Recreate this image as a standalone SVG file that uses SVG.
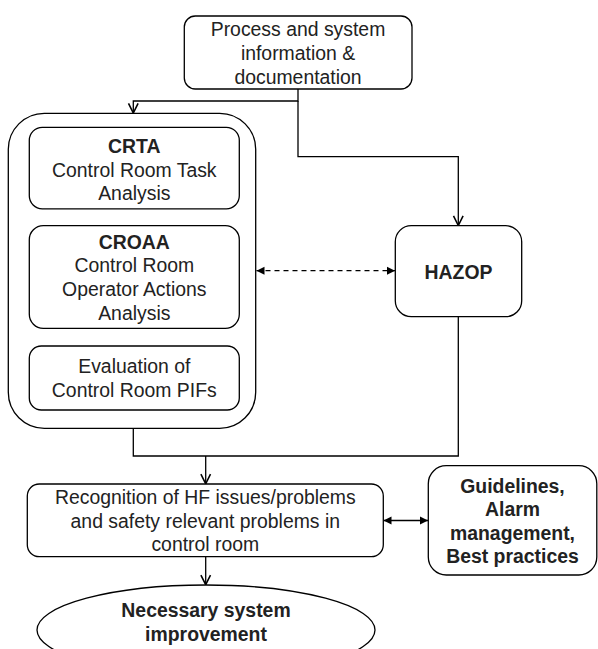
<svg xmlns="http://www.w3.org/2000/svg" width="598" height="649" viewBox="0 0 598 649">
<style>
.box{fill:#fff;stroke:#000;stroke-width:1.3}
.t{font-family:"Liberation Sans",Arial,sans-serif;font-size:19.4px;fill:#222;text-anchor:middle}
.b{font-weight:bold}
.c{fill:none;stroke:#000;stroke-width:1.3}
</style>
<defs>
<marker id="v" markerUnits="userSpaceOnUse" markerWidth="12" markerHeight="12" viewBox="0 0 10 10" refX="9" refY="5" orient="auto">
<path d="M1,1 L9,5 L1,9" fill="none" stroke="#000" stroke-width="1.3"/>
</marker>
<marker id="f" markerUnits="userSpaceOnUse" markerWidth="9" markerHeight="9" viewBox="0 0 9 9" refX="8" refY="4.5" orient="auto-start-reverse">
<path d="M0,0.5 L8,4.5 L0,8.5 z" fill="#000"/>
</marker>
</defs>
<rect width="598" height="649" fill="#fff"/>
<g id="connectors">
<path class="c" d="M298,89 V101 H133.3 V113" marker-end="url(#v)"/>
<path class="c" d="M298,101 V156.7 H458.3 V225.5" marker-end="url(#v)"/>
<path class="c" d="M133.3,428.3 V456 H458.3 V316.7"/>
<path class="c" d="M205.7,456 V483.8" marker-end="url(#v)"/>
<path class="c" d="M205.7,556.7 V584.7" marker-end="url(#v)"/>
<path class="c" d="M256.5,270.7 H395" stroke-dasharray="5,4" marker-start="url(#f)" marker-end="url(#f)"/>
<path class="c" d="M383.5,520.5 H428" marker-start="url(#f)" marker-end="url(#f)"/>
</g>
<g id="process">
<rect class="box" x="184.3" y="16" width="227.7" height="73" rx="11"/>
<text class="t" x="298" y="36">Process and system</text>
<text class="t" x="298" y="60">information &amp;</text>
<text class="t" x="298" y="83.5">documentation</text>
</g>
<g id="container">
<rect class="box" x="8.3" y="113.3" width="247.4" height="315" rx="36"/>
</g>
<g id="crta">
<rect class="box" x="29.3" y="127.3" width="210" height="81.5" rx="13"/>
<text class="t b" x="134.3" y="153">CRTA</text>
<text class="t" x="134.3" y="176.5">Control Room Task</text>
<text class="t" x="134.3" y="200">Analysis</text>
</g>
<g id="croaa">
<rect class="box" x="29.3" y="225.7" width="210" height="102.6" rx="14"/>
<text class="t b" x="134.3" y="249">CROAA</text>
<text class="t" x="134.3" y="272">Control Room</text>
<text class="t" x="134.3" y="296">Operator Actions</text>
<text class="t" x="134.3" y="320">Analysis</text>
</g>
<g id="pifs">
<rect class="box" x="29.3" y="346" width="210" height="64" rx="12"/>
<text class="t" x="134.3" y="373">Evaluation of</text>
<text class="t" x="134.3" y="397">Control Room PIFs</text>
</g>
<g id="hazop">
<rect class="box" x="395.3" y="225.7" width="126.4" height="91" rx="16"/>
<text class="t b" x="458.5" y="279">HAZOP</text>
</g>
<g id="recognition">
<rect class="box" x="27.3" y="484" width="356" height="72.7" rx="12"/>
<text class="t" x="205.3" y="504">Recognition of HF issues/problems</text>
<text class="t" x="205.3" y="527.5">and safety relevant problems in</text>
<text class="t" x="205.3" y="551">control room</text>
</g>
<g id="guidelines">
<rect class="box" x="428.3" y="465.7" width="168.5" height="109.3" rx="18"/>
<text class="t b" x="512.5" y="493">Guidelines,</text>
<text class="t b" x="512.5" y="516.3">Alarm</text>
<text class="t b" x="512.5" y="539.7">management,</text>
<text class="t b" x="512.5" y="563">Best practices</text>
</g>
<g id="improvement">
<ellipse class="box" cx="206" cy="630" rx="169" ry="45"/>
<text class="t b" x="206" y="617">Necessary system</text>
<text class="t b" x="206" y="641">improvement</text>
</g>
</svg>
